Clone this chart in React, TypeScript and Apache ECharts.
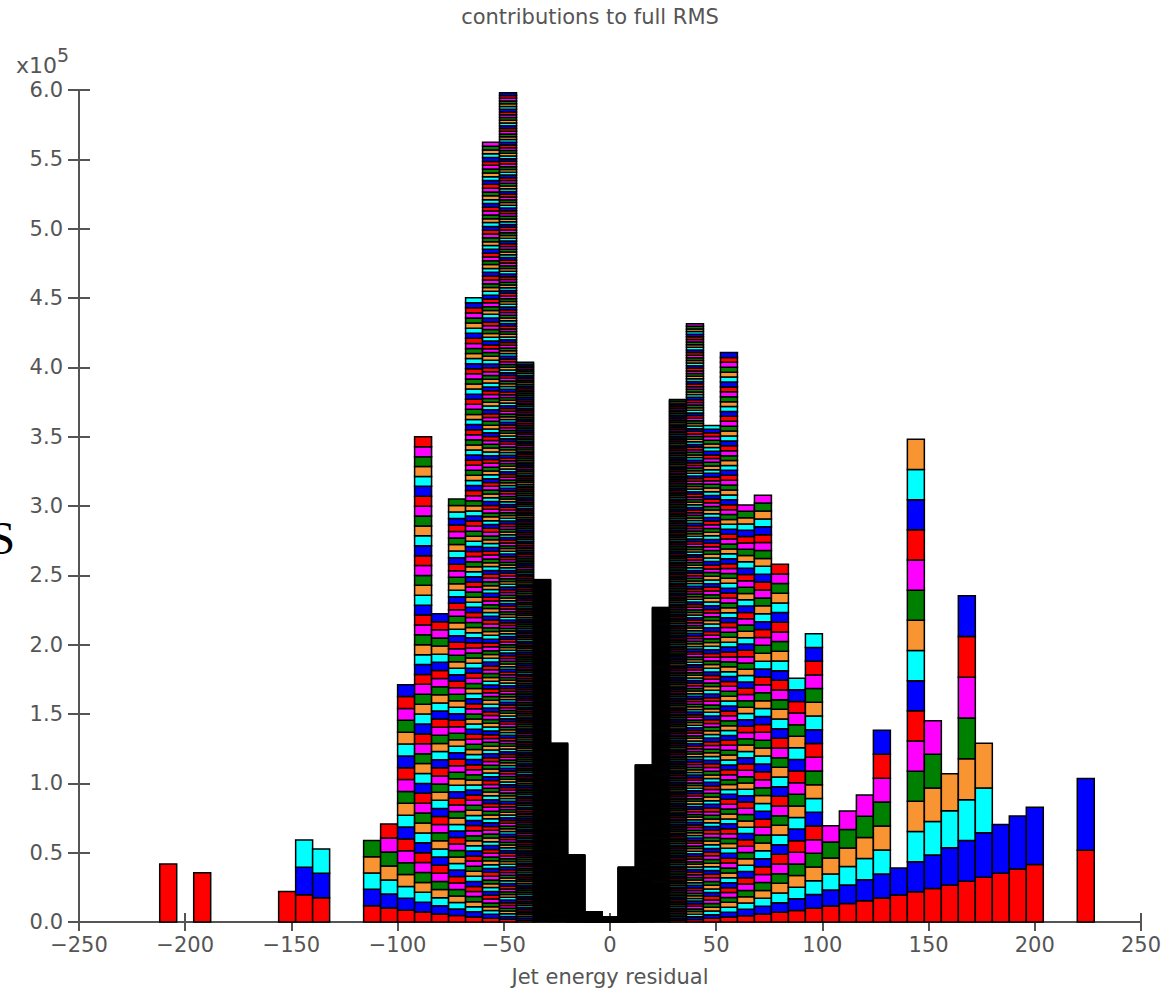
import React, { useEffect, useRef } from "react";
import * as echarts from "echarts";

// Histogram bins (bin centres, width 8) and number of entries in each bin
const binCenters = [
  -208, -192, -152, -144, -136, -112, -104, -96, -88, -80, -72, -64, -56, -48, -40,
  -32, -24, -16, -8, 0, 8, 16, 24, 32, 40, 48, 56, 64, 72, 80, 88, 96, 104, 112, 120,
  128, 136, 144, 152, 160, 168, 176, 184, 192, 200, 224,
];
const entryCounts = [
  1, 1, 1, 3, 3, 5, 7, 20, 49, 38, 65, 123, 204, 302, 303,
  304, 307, 310, 360, 270, 299, 298, 300, 299, 228, 135, 116, 66, 54, 37, 21, 21, 6, 6, 6,
  8, 2, 16, 6, 4, 8, 4, 2, 2, 2, 2,
];
const binWidth = 8;
const residualMean = -3.5; // each entry contributes (x - mean)^2 to the full RMS
const segmentColors = ["#ff0000", "#0000ff", "#00ffff", "#f89432", "#008000", "#ff00ff"];

const titleText = "contributions to full RMS";
const xAxisName = "Jet energy residual";

const FONT = "DejaVu Sans";
const GREY = "#555";

export default function App() {
  const ref = useRef<HTMLDivElement>(null);
  useEffect(() => {
    if (!ref.current) return;
    const chart = echarts.init(ref.current, null, { renderer: "svg" });
    const data = binCenters.map((c, i) => [c, entryCounts[i]]);
    const minus = (v: number) => String(v).replace("-", "\u2212");
    chart.setOption({
      animation: false,
      backgroundColor: "#fff",
      grid: { left: 79, right: 25, top: 90, bottom: 68 },
      xAxis: [
        {
          type: "value",
          min: -250,
          max: 250,
          interval: 50,
          name: xAxisName,
          nameLocation: "middle",
          nameGap: 44,
          nameTextStyle: { fontFamily: FONT, fontSize: 21, color: GREY },
          axisLine: { show: true, onZero: false, lineStyle: { color: GREY, width: 2 } },
          axisTick: { show: true, length: 9, lineStyle: { color: GREY, width: 2 } },
          axisLabel: { fontFamily: FONT, fontSize: 21, color: GREY, margin: 12, formatter: minus },
          splitLine: { show: false },
        },
        {
          type: "value",
          min: -250,
          max: 250,
          interval: 50,
          position: "bottom",
          axisLine: { show: false, onZero: false },
          axisTick: { show: true, inside: true, length: 9, lineStyle: { color: GREY, width: 2 } },
          axisLabel: { show: false },
          splitLine: { show: false },
        },
      ],
      yAxis: [
        {
          type: "value",
          min: 0,
          max: 600000,
          interval: 50000,
          axisLine: { show: true, onZero: false, lineStyle: { color: GREY, width: 2 } },
          axisTick: { show: true, length: 11, lineStyle: { color: GREY, width: 2 } },
          axisLabel: {
            fontFamily: FONT,
            fontSize: 21,
            color: GREY,
            margin: 16,
            formatter: (v: number) => (v / 1e5).toFixed(1),
          },
          splitLine: { show: false },
        },
        {
          type: "value",
          min: 0,
          max: 600000,
          interval: 50000,
          position: "left",
          axisLine: { show: false, onZero: false },
          axisTick: { show: true, inside: true, length: 11, lineStyle: { color: GREY, width: 2 } },
          axisLabel: { show: false },
          splitLine: { show: false },
        },
      ],
      graphic: [
        {
          type: "text",
          x: 590,
          y: 17,
          style: {
            text: titleText,
            fontFamily: FONT,
            fontSize: 21,
            fill: GREY,
            textAlign: "center",
            textVerticalAlign: "middle",
          },
        },
        {
          type: "text",
          x: 16,
          y: 65,
          style: { text: "x10", fontFamily: FONT, fontSize: 22, fill: GREY, textVerticalAlign: "middle" },
        },
        {
          type: "text",
          x: 57,
          y: 55,
          style: { text: "5", fontFamily: FONT, fontSize: 19, fill: GREY, textVerticalAlign: "middle" },
        },
        {
          type: "text",
          x: -11,
          y: 538,
          style: {
            text: "S",
            fontFamily: "Liberation Serif",
            fontSize: 47,
            fill: "#000",
            textVerticalAlign: "middle",
          },
        },
      ],
      series: [
        {
          type: "custom",
          xAxisIndex: 0,
          yAxisIndex: 0,
          silent: true,
          encode: { x: 0, y: 1 },
          data,
          renderItem: (params: any, api: any) => {
            const c = api.value(0) as number;
            const n = api.value(1) as number;
            const w = (c - residualMean) * (c - residualMean);
            const children: any[] = [];
            for (let i = 0; i < n; i++) {
              const p0 = api.coord([c - binWidth / 2, i * w]);
              const p1 = api.coord([c + binWidth / 2, (i + 1) * w]);
              children.push({
                type: "rect",
                shape: { x: p0[0], y: p1[1], width: p1[0] - p0[0], height: p0[1] - p1[1] },
                style: { fill: segmentColors[i % segmentColors.length], stroke: "#000", lineWidth: 1.5 },
              });
            }
            return { type: "group", children };
          },
        },
      ],
    });
    return () => chart.dispose();
  }, []);
  return (
    <div
      ref={ref}
      style={{ position: "fixed", left: 0, top: 0, width: 1166, height: 992, background: "#fff" }}
    />
  );
}
